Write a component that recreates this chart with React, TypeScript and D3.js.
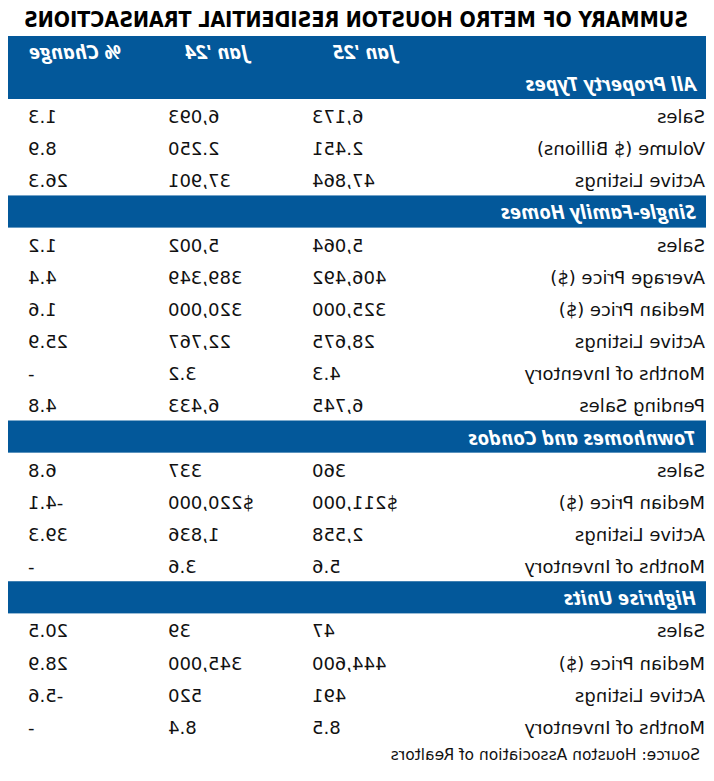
import React from "react";
import * as d3 from "d3";

const title = "SUMMARY OF METRO HOUSTON RESIDENTIAL TRANSACTIONS";
const source = "Source: Houston Association of Realtors";
const columns = ["Jan '25", "Jan '24", "% Change"];
const sections = ["All Property Types", "Single-Family Homes", "Townhomes and Condos", "Highrise Units"];

// one set of small arrays per section
const allLabels = ["Sales", "Volume ($ Billions)", "Active Listings"];
const allJan25 = ["6,173", "2.451", "47,864"];
const allJan24 = ["6,093", "2.250", "37,901"];
const allPct = ["1.3", "8.9", "26.3"];

const sfLabels = ["Sales", "Average Price ($)", "Median Price ($)", "Active Listings", "Months of Inventory", "Pending Sales"];
const sfJan25 = ["5,064", "406,492", "325,000", "28,675", "4.3", "6,745"];
const sfJan24 = ["5,002", "389,349", "320,000", "22,767", "3.2", "6,433"];
const sfPct = ["1.2", "4.4", "1.6", "25.9", "-", "4.8"];

const thLabels = ["Sales", "Median Price ($)", "Active Listings", "Months of Inventory"];
const thJan25 = ["360", "$211,000", "2,558", "5.6"];
const thJan24 = ["337", "$220,000", "1,836", "3.6"];
const thPct = ["6.8", "-4.1", "39.3", "-"];

const hrLabels = ["Sales", "Median Price ($)", "Active Listings", "Months of Inventory"];
const hrJan25 = ["47", "444,600", "491", "8.5"];
const hrJan24 = ["39", "345,000", "520", "8.4"];
const hrPct = ["20.5", "28.9", "-5.6", "-"];

const W = 714, H = 781;
const blue = "#03589a";
const ink = "#111";
const body = "'DejaVu Sans', sans-serif";
const head = "'Open Sans', sans-serif";

type Line = { kind: "band" | "row"; text: string; vals?: string[] };

function buildLines(): Line[] {
  const groups = [
    [allLabels, allJan25, allJan24, allPct],
    [sfLabels, sfJan25, sfJan24, sfPct],
    [thLabels, thJan25, thJan24, thPct],
    [hrLabels, hrJan25, hrJan24, hrPct],
  ];
  const out: Line[] = [];
  groups.forEach((g, gi) => {
    // first section title sits inside the header block
    if (gi > 0) out.push({ kind: "band", text: sections[gi] });
    g[0].forEach((lab, i) => out.push({ kind: "row", text: lab, vals: [g[1][i], g[2][i], g[3][i]] }));
  });
  return out;
}

export default function App() {
  const lines = buildLines();
  const headTop = 36, headBottom = 99, rowH = 32.15;
  const y = d3.scaleLinear().domain([0, lines.length]).range([headBottom, headBottom + lines.length * rowH]);
  const xVal = d3.scaleOrdinal<string, number>().domain(columns).range([402, 546, 686]);
  const xHead = d3.scaleOrdinal<string, number>().domain(columns).range([381, 529, 685]);
  const left = 8, right = 706;

  return (
    <svg width={W} height={H} style={{ position: "absolute", left: 0, top: 0, background: "#fff" }}>
      <g transform={`translate(${W},0) scale(-1,1)`}>
        <text x={358} y={27} textAnchor="middle" textLength={664} lengthAdjust="spacingAndGlyphs"
          fontFamily="'DejaVu Sans Condensed', 'DejaVu Sans', sans-serif" fontWeight={700}
          fontSize={20.5} fill="#000">{title}</text>

        <rect x={left} y={headTop} width={right - left} height={headBottom - headTop} fill={blue} />
        {columns.map((c) => (
          <text key={c} x={xHead(c)} y={59} textAnchor="end" fontFamily={head} fontWeight={700}
            fontStyle="italic" fontSize={20} fill="#fff">{c}</text>
        ))}
        <text x={18} y={91} fontFamily={head} fontWeight={700} fontStyle="italic" fontSize={20} fill="#fff">
          {sections[0]}
        </text>

        {lines.map((ln, i) =>
          ln.kind === "band" ? (
            <g key={i}>
              <rect x={left} y={y(i)} width={right - left} height={rowH} fill={blue} />
              <text x={18} y={y(i) + 24} fontFamily={head} fontWeight={700} fontStyle="italic"
                fontSize={20} fill="#fff">{ln.text}</text>
            </g>
          ) : (
            <g key={i} fontFamily={body} fontSize={18} fill={ink}>
              <text x={9} y={y(i) + 24}>{ln.text}</text>
              {columns.map((c, j) => (
                <text key={c} x={xVal(c)} y={y(i) + 24} textAnchor="end">{ln.vals![j]}</text>
              ))}
            </g>
          )
        )}

        <text x={14} y={760} fontFamily={body} fontSize={15.5} fill={ink}>{source}</text>
      </g>
    </svg>
  );
}
